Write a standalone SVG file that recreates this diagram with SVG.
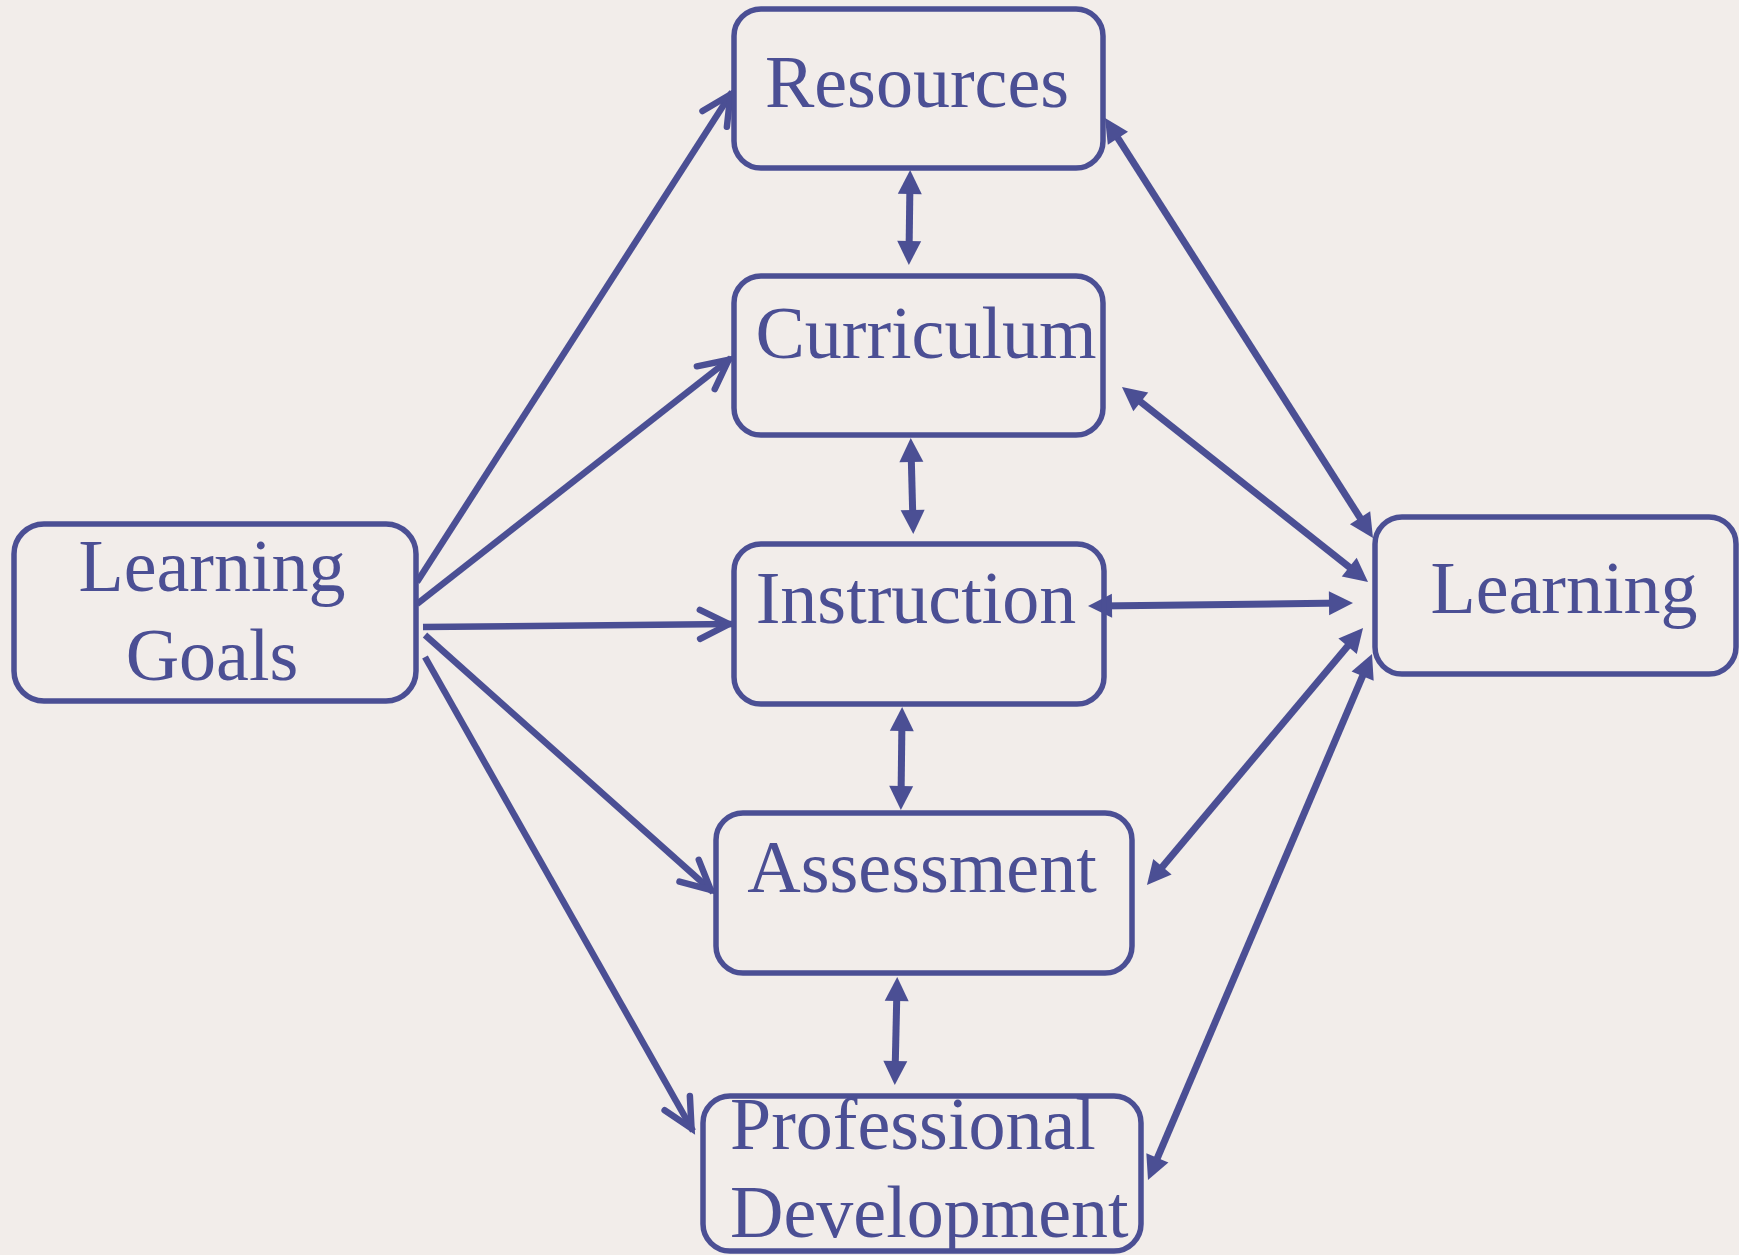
<svg xmlns="http://www.w3.org/2000/svg" width="1739" height="1255" viewBox="0 0 1739 1255">
<style>
.box{fill:none;stroke:#4b4f94;stroke-width:5.5}
.lbl{font-family:"Liberation Serif","Times New Roman",serif;font-size:74px;fill:#4b4f94}
.c{stroke:#4b4f94;stroke-width:6.5;fill:none}
.open{marker-end:url(#open)}
.dbl{marker-start:url(#tri);marker-end:url(#tri);stroke-width:7}
</style>
<defs>
<marker id="open" markerUnits="userSpaceOnUse" orient="auto" refX="0" refY="0" markerWidth="40" markerHeight="40" overflow="visible">
<path d="M-32,-14.5 L-3,0 L-32,14.5" fill="none" stroke="#4b4f94" stroke-width="6.5" stroke-linecap="round" stroke-linejoin="miter"/>
</marker>
<marker id="tri" markerUnits="userSpaceOnUse" orient="auto-start-reverse" refX="0" refY="0" markerWidth="40" markerHeight="40" overflow="visible">
<path d="M10,0 L-14,-12 L-14,12 Z" fill="#4b4f94"/>
</marker>
</defs>
<rect width="1739" height="1255" fill="#f2edea"/>
<g id="connectors">
<line class="c open" x1="417" y1="582" x2="732" y2="92"/>
<line class="c open" x1="417" y1="604" x2="731" y2="358"/>
<line class="c open" x1="423" y1="627" x2="732" y2="624"/>
<line class="c open" x1="425" y1="635" x2="713" y2="892"/>
<line class="c open" x1="425" y1="657" x2="693" y2="1131"/>
<line class="c dbl" x1="910" y1="180" x2="909" y2="255"/>
<line class="c dbl" x1="911" y1="448" x2="913" y2="524"/>
<line class="c dbl" x1="902" y1="717" x2="901" y2="800"/>
<line class="c dbl" x1="897" y1="987" x2="895" y2="1075"/>
<line class="c dbl" x1="1110.4" y1="126.4" x2="1367.6" y2="529.6"/>
<line class="c dbl" x1="1129.8" y1="393.2" x2="1360.2" y2="575.8"/>
<line class="c dbl" x1="1098" y1="605.9" x2="1343" y2="603.1"/>
<line class="c dbl" x1="1153.4" y1="877.4" x2="1356.6" y2="635.6"/>
<line class="c dbl" x1="1151.9" y1="1170.8" x2="1368.1" y2="663.2"/>
</g>
<g id="resources">
<rect class="box" x="734" y="9" width="369" height="159" rx="27"/>
<text class="lbl" x="917" y="107" text-anchor="middle">Resources</text>
</g>
<g id="curriculum">
<rect class="box" x="734" y="276" width="369" height="159" rx="27"/>
<text class="lbl" x="926" y="358" text-anchor="middle">Curriculum</text>
</g>
<g id="instruction">
<rect class="box" x="734" y="544" width="370" height="160" rx="27"/>
<text class="lbl" x="916" y="623" text-anchor="middle">Instruction</text>
</g>
<g id="assessment">
<rect class="box" x="716" y="813" width="416" height="160" rx="27"/>
<text class="lbl" x="922" y="892" text-anchor="middle">Assessment</text>
</g>
<g id="professional-development">
<rect class="box" x="703" y="1096" width="438" height="155" rx="27"/>
<text class="lbl" x="730" y="1149">Professional</text>
<text class="lbl" x="730" y="1237">Development</text>
</g>
<g id="learning-goals">
<rect class="box" x="14" y="524" width="402" height="177" rx="30"/>
<text class="lbl" x="212" y="591" text-anchor="middle">Learning</text>
<text class="lbl" x="212" y="680" text-anchor="middle">Goals</text>
</g>
<g id="learning">
<rect class="box" x="1375" y="517" width="361" height="157" rx="27"/>
<text class="lbl" x="1564" y="613" text-anchor="middle">Learning</text>
</g>
</svg>
